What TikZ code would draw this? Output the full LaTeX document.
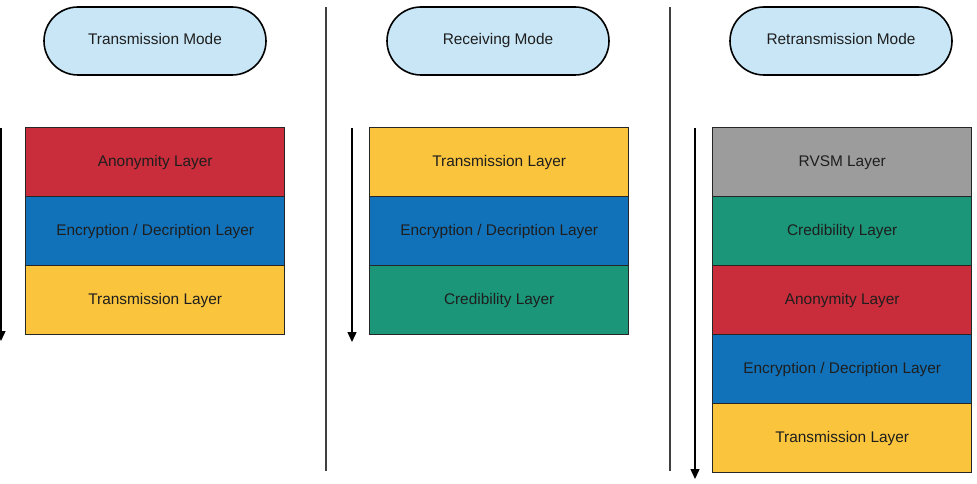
\documentclass[tikz,border=0pt]{standalone}
\usepackage{fontspec}
\setmainfont{Liberation Sans}
\usetikzlibrary{shapes.misc,arrows.meta}
\definecolor{redL}{RGB}{201,44,58}
\definecolor{blueL}{RGB}{17,114,186}
\definecolor{yellowL}{RGB}{250,196,60}
\definecolor{greenL}{RGB}{27,150,120}
\definecolor{greyL}{RGB}{156,156,156}
\definecolor{modeL}{RGB}{200,230,246}
\definecolor{txt}{RGB}{30,30,30}
\begin{document}
\begin{tikzpicture}[x=1pt,y=-1pt,
  mode/.style={rounded rectangle, draw=black, line width=1.6pt, fill=modeL,
    minimum width=222pt, minimum height=68pt, inner sep=0pt,
    font=\fontsize{15.4}{17}\selectfont, text=txt, text height=11pt, text depth=3pt},
  layer/.style={rectangle, draw=black!85, line width=1.4pt,
    minimum width=259pt, minimum height=69pt, inner sep=0pt, anchor=north west,
    font=\fontsize{15.4}{17}\selectfont, text=txt, text height=11pt, text depth=3pt},
  sep/.style={draw=black!75, line width=1.6pt},
  flow/.style={draw=black, line width=1.4pt, -{Triangle[length=10pt,width=9pt]}}]
\useasboundingbox (0,0) rectangle (977,484);
% separators
\coordinate (s1a) at (326,7); \coordinate (s1b) at (326,471);
\coordinate (s2a) at (670,7); \coordinate (s2b) at (670,471);
\draw[sep] (s1a) -- (s1b);
\draw[sep] (s2a) -- (s2b);
% modes
\node[mode] (m1) at (155,41) {Transmission Mode};
\node[mode] (m2) at (498,41) {Receiving Mode};
\node[mode] (m3) at (841,41) {Retransmission Mode};
% left stack
\node[layer, fill=redL] (a1) at (25,127) {Anonymity Layer};
\node[layer, fill=blueL] (a2) at (25,196) {Encryption / Decription Layer};
\node[layer, fill=yellowL] (a3) at (25,265) {Transmission Layer};
% middle stack
\node[layer, fill=yellowL] (b1) at (369,127) {Transmission Layer};
\node[layer, fill=blueL] (b2) at (369,196) {Encryption / Decription Layer};
\node[layer, fill=greenL] (b3) at (369,265) {Credibility Layer};
% right stack
\node[layer, fill=greyL] (c1) at (712,127) {RVSM Layer};
\node[layer, fill=greenL] (c2) at (712,196) {Credibility Layer};
\node[layer, fill=redL] (c3) at (712,265) {Anonymity Layer};
\node[layer, fill=blueL] (c4) at (712,334) {Encryption / Decription Layer};
\node[layer, fill=yellowL] (c5) at (712,403) {Transmission Layer};
% arrows
\coordinate (f1a) at (1,128); \coordinate (f1b) at (1,341);
\coordinate (f2a) at (352,128); \coordinate (f2b) at (352,342);
\coordinate (f3a) at (695,128); \coordinate (f3b) at (695,479);
\draw[flow] (f1a) -- (f1b);
\draw[flow] (f2a) -- (f2b);
\draw[flow] (f3a) -- (f3b);
\end{tikzpicture}
\end{document}
